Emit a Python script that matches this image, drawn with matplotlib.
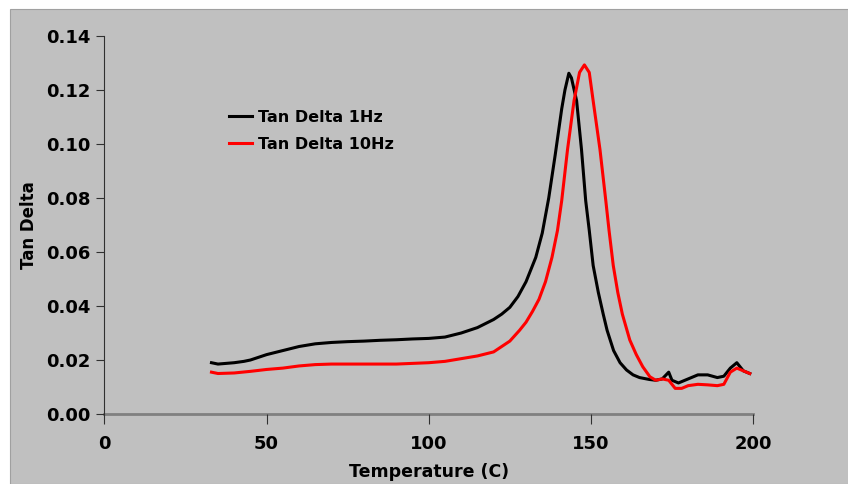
import matplotlib
matplotlib.use('Agg')
import matplotlib.pyplot as plt
from matplotlib.patches import Rectangle

# temperature (C) and tan delta
temp_1hz = [33, 35, 38, 40, 43, 45, 50, 55, 60, 65, 70, 75, 80, 85, 90, 95, 100, 105, 110, 115,
            120, 122.5, 125, 127.5, 130, 133, 135, 137, 139, 141, 142, 143.2, 144, 145.6, 147.1,
            148.4, 149.5, 150.7, 152.3, 153.8, 155, 157, 159, 161, 163, 165, 168, 170, 172, 174,
            175, 177, 180, 183, 186, 189, 191, 193, 195, 197, 199]
tan_1hz = [0.019, 0.0185, 0.0188, 0.019, 0.0195, 0.020, 0.022, 0.0235, 0.025, 0.026, 0.0265,
           0.0268, 0.027, 0.0273, 0.0275, 0.0278, 0.028, 0.0285, 0.030, 0.032, 0.035, 0.037,
           0.0395, 0.0435, 0.049, 0.058, 0.067, 0.080, 0.096, 0.113, 0.120, 0.1262, 0.1245,
           0.116, 0.098, 0.079, 0.068, 0.055, 0.045, 0.037, 0.031, 0.0235, 0.019, 0.0163,
           0.0145, 0.0135, 0.0128, 0.0125, 0.013, 0.0155, 0.0125, 0.0115, 0.013, 0.0145, 0.0145,
           0.0135, 0.014, 0.017, 0.019, 0.016, 0.015]

temp_10hz = [33, 35, 40, 45, 50, 55, 60, 65, 70, 80, 90, 100, 105, 110, 115, 120, 125, 128, 130,
             132, 134, 136, 138, 139.7, 141, 142.8, 144.8, 146.5, 148, 149.5, 150.7, 152.8, 154.6,
             155.6, 156.9, 158.3, 159.7, 162, 164, 166, 168.2, 170, 172, 174, 176, 178, 180, 183,
             186, 189, 191, 193, 195, 197, 199]
tan_10hz = [0.0155, 0.015, 0.0152, 0.0158, 0.0165, 0.017, 0.0178, 0.0183, 0.0185, 0.0185,
            0.0185, 0.019, 0.0195, 0.0205, 0.0215, 0.023, 0.027, 0.031, 0.034, 0.038, 0.0425,
            0.049, 0.058, 0.068, 0.079, 0.098, 0.116, 0.1265, 0.1293, 0.1265, 0.116, 0.098,
            0.079, 0.068, 0.055, 0.045, 0.037, 0.0274, 0.022, 0.0175, 0.0138, 0.0125, 0.013,
            0.0125, 0.0095, 0.0095, 0.0105, 0.011, 0.0108, 0.0105, 0.011, 0.0155, 0.017, 0.016,
            0.015]

grey = '#c0c0c0'

fig = plt.figure(figsize=(8.48, 4.84), dpi=100)
bg = Rectangle((10 / 848, 0), 1, 1 - 9 / 484, transform=fig.transFigure,
               facecolor=grey, edgecolor='#a0a0a0', linewidth=0.8, zorder=-10)
fig.add_artist(bg)

ax = fig.add_axes([0.1232, 0.1446, 0.7648, 0.781])
ax.set_zorder(1)
ax.patch.set_visible(False)

ax.plot(temp_1hz, tan_1hz, color='black', lw=2.2, label='Tan Delta 1Hz')
ax.plot(temp_10hz, tan_10hz, color='#ff0000', lw=2.2, label='Tan Delta 10Hz')

ax.set_xlim(0, 200)
ax.set_ylim(0, 0.14)
ax.set_xticks([0, 50, 100, 150, 200])
ax.set_yticks([0, 0.02, 0.04, 0.06, 0.08, 0.10, 0.12, 0.14])
ax.set_yticklabels(['%.2f' % v for v in ax.get_yticks()])

for s in ['top', 'right']:
    ax.spines[s].set_visible(False)
ax.spines['left'].set_color('#303030')
ax.spines['left'].set_linewidth(0.8)
ax.spines['bottom'].set_color('#808080')
ax.spines['bottom'].set_linewidth(2)
ax.spines['bottom'].set_zorder(1)

ax.tick_params(axis='y', direction='out', length=6, width=0.8, color='#303030', pad=4)
ax.tick_params(axis='x', direction='out', length=7, width=0.8, color='#303030', pad=8)
for lab in ax.get_xticklabels() + ax.get_yticklabels():
    lab.set_fontsize(13)
    lab.set_fontweight('bold')

ax.set_xlabel('Temperature (C)', fontsize=12.5, fontweight='bold', labelpad=7)
ax.set_ylabel('Tan Delta', fontsize=12, fontweight='bold', labelpad=6)

ax.legend(loc='upper left', bbox_to_anchor=(0.192, 0.805), frameon=False,
          prop={'size': 11.5, 'weight': 'bold'}, handlelength=1.45, handletextpad=0.35,
          labelspacing=0.75, borderaxespad=0, borderpad=0)

fig.savefig('out.png', dpi=100, facecolor='white')
